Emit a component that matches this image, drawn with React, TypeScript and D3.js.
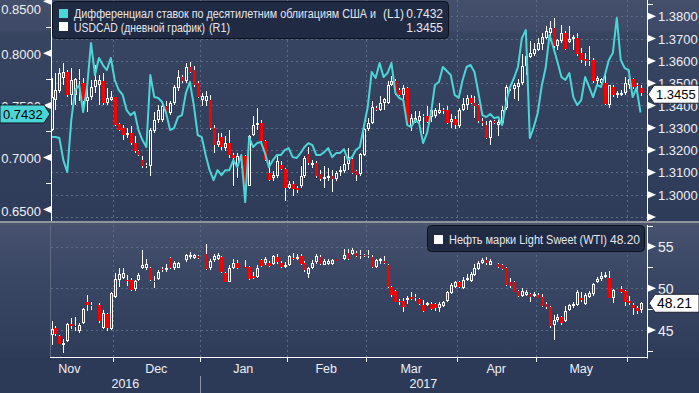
import React from "react";
import { scaleLinear, line } from "d3";

type OHLC = [number, number, number, number];

// one candle per weekday, first visible session 9 Nov 2016
const FIRST_DAY = new Date(2016, 10, 9);
const DAY_COUNT = 150;

// USDCAD daily [open, high, low, close]
const usdcad: OHLC[] = [
  [1.3291, 1.3522, 1.3284, 1.3440], [1.3425, 1.3545, 1.3381, 1.347], [1.3463, 1.3567, 1.3455, 1.3545],
  [1.3522, 1.359, 1.3493, 1.3552], [1.3552, 1.356, 1.344, 1.3448], [1.3448, 1.3567, 1.3403, 1.3515],
  [1.3448, 1.3522, 1.3403, 1.3518], [1.3508, 1.3563, 1.3418, 1.3515], [1.35, 1.3522, 1.3373, 1.3418],
  [1.3418, 1.3515, 1.3373, 1.344], [1.344, 1.3515, 1.3425, 1.3485], [1.3485, 1.3582, 1.3455, 1.3515],
  [1.3493, 1.3537, 1.3403, 1.3515], [1.3508, 1.3545, 1.3403, 1.341], [1.341, 1.3478, 1.3403, 1.3433],
  [1.3425, 1.3463, 1.3418, 1.344], [1.344, 1.344, 1.3306, 1.3313], [1.3318, 1.3321, 1.3284, 1.3291],
  [1.3298, 1.3313, 1.3246, 1.3269], [1.3269, 1.3298, 1.3254, 1.3276], [1.3276, 1.3306, 1.3224, 1.3231],
  [1.3231, 1.3261, 1.3187, 1.3194], [1.3194, 1.3201, 1.3172, 1.3179], [1.3154, 1.3172, 1.3119, 1.3127],
  [1.3127, 1.3142, 1.3119, 1.3134], [1.3127, 1.3298, 1.3082, 1.3291], [1.3284, 1.3373, 1.3276, 1.3336],
  [1.3336, 1.3403, 1.3321, 1.3381], [1.3336, 1.341, 1.3328, 1.3396], [1.3396, 1.3418, 1.3358, 1.3366],
  [1.3366, 1.3418, 1.3358, 1.3413], [1.341, 1.3493, 1.3403, 1.3485], [1.3478, 1.356, 1.3463, 1.353],
  [1.353, 1.3537, 1.35, 1.3508], [1.3508, 1.359, 1.35, 1.3572], [1.3572, 1.3597, 1.3545, 1.3552],
  [1.356, 1.3575, 1.3485, 1.3493], [1.35, 1.3508, 1.3433, 1.344], [1.3425, 1.3455, 1.3396, 1.3443],
  [1.3422, 1.3463, 1.3396, 1.3443], [1.3425, 1.3448, 1.3291, 1.3298], [1.3298, 1.3313, 1.3187, 1.3224],
  [1.3224, 1.3276, 1.3216, 1.3239], [1.3258, 1.3276, 1.3201, 1.3213], [1.3209, 1.3261, 1.3194, 1.3231],
  [1.3231, 1.3291, 1.3164, 1.3179], [1.3179, 1.3187, 1.3037, 1.3164], [1.3127, 1.3187, 1.3075, 1.3175],
  [1.3172, 1.3179, 1.3119, 1.3157], [1.3172, 1.3179, 1.3037, 1.3045], [1.3037, 1.3269, 1.3037, 1.3261],
  [1.3269, 1.3351, 1.3261, 1.3313], [1.3313, 1.3388, 1.3291, 1.3321], [1.3321, 1.3336, 1.3231, 1.3239],
  [1.3239, 1.3246, 1.3149, 1.3157], [1.3097, 1.3157, 1.306, 1.3067], [1.3075, 1.3105, 1.306, 1.309],
  [1.3082, 1.3179, 1.3075, 1.3149], [1.3134, 1.3149, 1.3112, 1.3115], [1.3115, 1.3119, 1.297, 1.303],
  [1.303, 1.306, 1.3025, 1.3049], [1.3049, 1.306, 1.2993, 1.3025], [1.303, 1.3037, 1.3007, 1.3019],
  [1.3037, 1.3127, 1.303, 1.3085], [1.3082, 1.3172, 1.3075, 1.3164], [1.3184, 1.3216, 1.3134, 1.3142],
  [1.3134, 1.3157, 1.3119, 1.3142], [1.3142, 1.3149, 1.3075, 1.3082], [1.3094, 1.3112, 1.306, 1.307],
  [1.307, 1.3127, 1.303, 1.3079], [1.3075, 1.3119, 1.306, 1.3082], [1.3082, 1.3112, 1.301, 1.307],
  [1.307, 1.3105, 1.306, 1.3097], [1.31, 1.3127, 1.3082, 1.3109], [1.3105, 1.3172, 1.3097, 1.3139],
  [1.3139, 1.3209, 1.3112, 1.3167], [1.3161, 1.3166, 1.3091, 1.3099], [1.3106, 1.3113, 1.3061, 1.3087],
  [1.3091, 1.3188, 1.3084, 1.3181], [1.3176, 1.33, 1.3173, 1.3293], [1.3293, 1.3345, 1.3285, 1.3322],
  [1.3322, 1.342, 1.3315, 1.3394], [1.339, 1.3397, 1.3375, 1.3379], [1.3382, 1.3442, 1.3375, 1.3412],
  [1.3412, 1.3434, 1.3382, 1.3427], [1.3409, 1.3509, 1.3405, 1.3494], [1.349, 1.3534, 1.3487, 1.3512],
  [1.3512, 1.3517, 1.3449, 1.3469], [1.3469, 1.3479, 1.3442, 1.3446], [1.3449, 1.349, 1.3427, 1.3479],
  [1.3479, 1.3484, 1.3315, 1.3322], [1.3308, 1.336, 1.3285, 1.3345], [1.333, 1.3375, 1.3322, 1.3345],
  [1.333, 1.3375, 1.3315, 1.3352], [1.3349, 1.336, 1.327, 1.3352], [1.3355, 1.3397, 1.3322, 1.3325],
  [1.3349, 1.3397, 1.3325, 1.3378], [1.3355, 1.339, 1.3345, 1.3382], [1.3367, 1.3412, 1.336, 1.3382],
  [1.3382, 1.339, 1.336, 1.3375], [1.3382, 1.3397, 1.3315, 1.3322], [1.3325, 1.336, 1.33, 1.334],
  [1.334, 1.3352, 1.3293, 1.3311], [1.3308, 1.339, 1.33, 1.3382], [1.3382, 1.3434, 1.3375, 1.3405],
  [1.34, 1.3449, 1.3382, 1.3434], [1.3434, 1.3449, 1.3405, 1.3412], [1.3412, 1.3442, 1.3345, 1.3397],
  [1.34, 1.3405, 1.3322, 1.333], [1.333, 1.3345, 1.3308, 1.332], [1.3311, 1.333, 1.3248, 1.3255],
  [1.3255, 1.3337, 1.3225, 1.333], [1.333, 1.3337, 1.3315, 1.3322], [1.3311, 1.3337, 1.3263, 1.3325],
  [1.3322, 1.3397, 1.3315, 1.3382], [1.339, 1.3494, 1.3382, 1.3484], [1.3484, 1.3494, 1.3464, 1.3472],
  [1.3472, 1.3502, 1.3427, 1.3494], [1.3484, 1.3517, 1.342, 1.3502], [1.3502, 1.3629, 1.3494, 1.3576],
  [1.3576, 1.3629, 1.3539, 1.3621], [1.3618, 1.3688, 1.3614, 1.3636], [1.3632, 1.3681, 1.3624, 1.3654],
  [1.3651, 1.3703, 1.3643, 1.3681], [1.3678, 1.3726, 1.3651, 1.3708], [1.3703, 1.3755, 1.3696, 1.3733],
  [1.3726, 1.3778, 1.3688, 1.3748], [1.3748, 1.3793, 1.3658, 1.3666], [1.3666, 1.3699, 1.3651, 1.3693],
  [1.3688, 1.3763, 1.3681, 1.3726], [1.3723, 1.3733, 1.3651, 1.3654], [1.3684, 1.3755, 1.3681, 1.3696],
  [1.3696, 1.3718, 1.3651, 1.3708], [1.3703, 1.3726, 1.3621, 1.3629], [1.3636, 1.3658, 1.3591, 1.3606],
  [1.3609, 1.3636, 1.3576, 1.3599], [1.3603, 1.3666, 1.3576, 1.3606], [1.3606, 1.3614, 1.3502, 1.3509],
  [1.3509, 1.3531, 1.3494, 1.3524], [1.3502, 1.3524, 1.3487, 1.3517], [1.3502, 1.3546, 1.34, 1.3405],
  [1.34, 1.3494, 1.339, 1.349], [1.3484, 1.349, 1.3439, 1.3445], [1.3445, 1.3464, 1.3434, 1.3454],
  [1.3449, 1.3469, 1.3442, 1.3457], [1.3454, 1.3529, 1.3449, 1.3502], [1.3494, 1.3554, 1.3472, 1.3517],
  [1.3517, 1.3524, 1.3475, 1.3484], [1.3494, 1.3502, 1.3464, 1.3487], [1.3479, 1.349, 1.3442, 1.3455],
];

// US-Canada 10y yield differential (L1)
const spread: number[] = [
  0.7196, 0.7196, 0.7186, 0.6974, 0.6859, 0.7359, 0.7648, 0.7696, 0.7436, 0.7677,
  0.81, 0.7792, 0.7955, 0.7888, 0.784, 0.7955, 0.7744, 0.7648, 0.76, 0.7455,
  0.7407, 0.7436, 0.7263, 0.7167, 0.71, 0.7792, 0.758, 0.7571, 0.7532, 0.7426,
  0.7263, 0.7282, 0.7388, 0.7407, 0.7619, 0.7725, 0.7503, 0.7215, 0.7196, 0.7023,
  0.6878, 0.6782, 0.6878, 0.683, 0.6878, 0.6878, 0.6974, 0.6907, 0.7023, 0.6571,
  0.7196, 0.71, 0.7138, 0.7148, 0.7042, 0.6907, 0.6974, 0.7023, 0.7023, 0.7071,
  0.709, 0.7003, 0.6994, 0.7042, 0.71, 0.7138, 0.7119, 0.7023, 0.7023, 0.7051,
  0.709, 0.7003, 0.7042, 0.7042, 0.708, 0.6974, 0.7003, 0.7071, 0.71, 0.7292,
  0.7484, 0.7821, 0.7763, 0.7907, 0.7773, 0.7811, 0.7907, 0.7619, 0.7571, 0.7551,
  0.7311, 0.7292, 0.7359, 0.733, 0.7138, 0.7234, 0.7426, 0.7696, 0.7725, 0.7869,
  0.783, 0.7792, 0.76, 0.7571, 0.7744, 0.7869, 0.7888, 0.7821, 0.7619, 0.7407,
  0.7388, 0.7417, 0.7378, 0.7388, 0.7311, 0.7523, 0.7677, 0.7763, 0.7869, 0.8148,
  0.8225, 0.7186, 0.7292, 0.7426, 0.7686, 0.7859, 0.8177, 0.8051, 0.7917, 0.7773,
  0.7744, 0.7811, 0.758, 0.7503, 0.7551, 0.7773, 0.7677, 0.758, 0.7696, 0.7677,
  0.7792, 0.7936, 0.8003, 0.834, 0.7936, 0.7859, 0.784, 0.758, 0.7667, 0.7432,
];

// WTI daily [open, high, low, close], null = US holiday
const wti: (OHLC | null)[] = [
  [44.47, 46.05, 43.21, 45.18], [45.26, 45.46, 44.27, 44.55], [44.35, 44.47, 43.29, 43.36],
  [43.21, 43.88, 42.3, 43.48], [43.68, 45.85, 43.6, 45.73], [45.73, 46.45, 45.18, 45.46],
  [45.34, 46.52, 44.94, 45.46], [44.86, 45.85, 44.67, 45.66], [45.85, 47.63, 45.73, 47.55],
  [48.34, 49.21, 47.31, 47.95], [47.87, 48.42, 47.43, 48.03], null,
  [48.03, 48.22, 45.85, 46.05], [45.26, 47.43, 45.18, 47.04], [46.92, 47.04, 44.86, 45.26],
  [45.18, 49.61, 45.06, 49.41], [49.01, 51.78, 48.89, 51.11], [50.99, 52.37, 50.2, 51.66],
  [51.26, 52.37, 51.11, 51.78], [50.99, 51.58, 50.32, 50.87], [50.99, 51.19, 49.72, 49.8],
  [49.88, 50.99, 49.72, 50.87], [50.99, 51.78, 50.87, 51.58], [52.45, 54.54, 52.29, 52.84],
  [52.45, 53.48, 52.17, 52.96], [52.45, 52.57, 50.87, 50.99], [50.71, 51.5, 50.0, 50.87],
  [51.11, 52.17, 50.99, 51.98], [52.25, 52.57, 51.9, 52.13], [52.17, 52.96, 51.98, 52.37],
  [53.63, 53.75, 52.29, 52.45], [52.37, 53.24, 52.17, 53.08], [52.45, 53.16, 52.37, 53.04],
  null, [53.36, 54.15, 53.16, 53.95], [53.75, 54.35, 53.56, 54.03],
  [53.63, 54.15, 53.48, 53.95], [53.83, 53.95, 53.56, 53.63], null,
  [54.15, 55.25, 52.17, 52.25], [52.37, 53.56, 52.17, 53.24], [53.36, 54.15, 53.16, 53.83],
  [53.56, 54.27, 53.36, 54.03], [53.75, 53.87, 51.78, 51.9], [51.78, 51.98, 50.71, 50.79],
  [50.79, 52.84, 50.71, 52.37], [52.37, 53.56, 52.29, 53.08], [53.08, 53.36, 52.29, 52.37],
  null, [52.57, 53.36, 52.37, 52.45], [52.57, 52.69, 50.99, 51.11],
  [51.5, 51.9, 51.11, 51.26], [51.38, 52.77, 51.26, 52.45], [53.36, 53.56, 52.57, 52.69],
  [53.08, 53.75, 52.77, 53.56], [53.08, 53.24, 52.57, 52.69], [52.96, 54.03, 52.77, 53.83],
  [53.75, 54.15, 52.96, 53.16], [53.08, 53.24, 52.45, 52.57], [52.57, 53.16, 52.37, 52.84],
  [52.77, 54.03, 52.65, 53.87], [53.63, 54.27, 53.36, 53.48], [53.56, 54.15, 53.36, 53.75],
  [53.83, 54.15, 52.84, 52.96], [53.08, 53.24, 51.98, 52.17], [51.66, 52.57, 51.26, 52.45],
  [52.45, 53.36, 52.29, 53.08], [53.16, 54.15, 52.96, 53.87], [53.75, 53.95, 52.84, 52.96],
  [52.84, 53.56, 52.77, 53.24], [52.96, 53.48, 52.84, 53.24], [52.96, 53.56, 52.77, 53.36],
  [53.48, 53.56, 53.24, 53.32], null, [53.48, 54.66, 53.36, 54.03],
  [54.27, 54.66, 53.4, 53.56], [54.15, 54.82, 53.95, 54.54], [54.27, 54.42, 53.75, 53.87],
  [53.87, 54.54, 53.56, 54.03], [54.03, 54.15, 53.75, 53.87], [53.87, 54.54, 53.63, 54.03],
  [53.75, 53.95, 52.45, 52.57], [52.57, 53.56, 52.45, 53.36], [53.24, 53.63, 52.96, 53.48],
  [53.32, 53.87, 52.96, 53.08], [52.84, 52.96, 50.08, 50.2], [50.2, 50.32, 49.01, 49.21],
  [49.68, 49.8, 48.34, 48.42], [48.5, 48.74, 48.03, 48.34], [48.5, 48.82, 47.16, 47.71],
  [48.62, 49.13, 48.1, 48.82], [49.01, 49.61, 48.62, 48.74], [48.82, 49.29, 48.5, 49.01],
  [48.74, 48.89, 48.03, 48.1], [47.95, 48.62, 47.16, 47.24], [47.95, 48.34, 47.83, 48.22],
  [48.1, 48.34, 47.43, 47.55], [48.1, 48.3, 47.31, 47.63], [47.63, 48.34, 47.16, 48.1],
  [47.83, 48.5, 47.71, 48.34], [48.5, 49.68, 48.34, 49.61], [49.41, 50.59, 49.29, 50.4],
  [50.2, 50.87, 50.08, 50.71], [50.71, 50.87, 50.0, 50.2], [50.08, 51.38, 49.92, 50.99],
  [50.99, 51.66, 50.87, 51.26], [50.87, 51.98, 50.79, 51.66], [51.58, 52.96, 51.5, 52.37],
  [52.29, 53.24, 52.17, 53.08], [53.08, 53.63, 52.96, 53.36], [53.36, 53.75, 52.84, 53.08],
  [52.84, 53.48, 52.77, 53.24], null, [52.96, 53.08, 52.45, 52.57],
  [52.77, 52.96, 52.17, 52.29], [52.37, 52.57, 50.32, 50.4], [50.79, 51.26, 50.08, 50.32],
  [50.71, 50.87, 49.53, 49.61], [49.68, 49.8, 49.01, 49.13], [49.13, 50.08, 49.01, 49.68],
  [49.21, 49.8, 49.13, 49.61], [49.29, 49.41, 48.42, 49.01], [49.13, 49.61, 49.01, 49.29],
  [49.21, 49.41, 48.82, 48.89], [49.01, 49.29, 47.71, 47.83], [48.1, 48.34, 47.55, 47.71],
  [47.71, 47.83, 45.26, 45.46], [45.58, 46.84, 43.76, 46.25], [46.25, 46.92, 45.97, 46.52],
  [46.52, 46.64, 45.66, 45.85], [46.13, 47.83, 45.97, 47.31], [47.43, 48.1, 47.24, 47.95],
  [47.83, 48.34, 47.63, 48.1], [47.95, 49.8, 47.83, 49.61], [48.89, 49.61, 48.42, 48.62],
  [48.1, 49.41, 48.03, 49.21], [49.01, 49.68, 48.89, 49.41], [49.29, 50.59, 49.13, 50.47],
  [50.71, 51.38, 50.59, 51.11], [51.11, 51.9, 50.87, 51.5], [51.38, 51.98, 51.19, 51.58],
  [51.19, 52.05, 48.82, 48.89], [48.82, 49.92, 48.22, 49.8], null,
  [49.92, 50.32, 49.41, 49.61], [49.68, 49.8, 47.83, 48.34], [48.5, 49.13, 47.95, 48.22],
  [48.03, 48.22, 46.76, 47.63], [47.63, 47.83, 46.92, 47.31], [47.43, 48.34, 47.04, 48.2],
];

const spreadTicks = [0.65, 0.7, 0.75, 0.8, 0.85];
const spreadMinor = [0.675, 0.725, 0.775, 0.825];
const usdTicks = [1.29, 1.3, 1.31, 1.32, 1.33, 1.34, 1.35, 1.36, 1.37, 1.38];
const oilTicks = [45, 50, 55];
const oilMinor = [42.5, 47.5, 52.5, 57.5];
const monthNames = ["Jan", "Feb", "Mar", "Apr", "May", "Jun", "Jul", "Aug", "Sep", "Oct", "Nov", "Dec"];

const spreadName = "Дифференциал ставок по десятилетним облигациям США и";
const usdName = "USDCAD (дневной график)";
const oilName = "Нефть марки Light Sweet (WTI)";
const usdLegendValue = "1.3455";
const oilLegendValue = "48.20";
const oilLastValue = 48.21;

const isWeekday = (d: Date) => d.getDay() !== 0 && d.getDay() !== 6;
const days: Date[] = [];
for (let d = new Date(FIRST_DAY); days.length < DAY_COUNT; d.setDate(d.getDate() + 1)) {
  if (isWeekday(d)) days.push(new Date(d));
}
// weekdays of the first month that fall before the first session
let leadDays = 0;
for (let d = new Date(FIRST_DAY.getFullYear(), FIRST_DAY.getMonth(), 1); d < FIRST_DAY; d.setDate(d.getDate() + 1)) {
  if (isWeekday(d)) leadDays++;
}

const FONT = "'Liberation Sans', Arial, sans-serif";
const TXT = "#eef0f6";
const LEFT = 51;
const RIGHT = 647;
const TOP_BOTTOM = 221;
const LOW_TOP = 225;
const LOW_BOTTOM = 357.5;

const x = scaleLinear().domain([0, DAY_COUNT - 1]).range([51.5, 640.5]);
const yLeft = scaleLinear().domain([0.65, 0.85]).range([209.5, 1.3]);
const yUsd = scaleLinear().domain([1.3, 1.38]).range([194.7, 16.3]);
const yOil = scaleLinear().domain([45, 55]).range([330.1, 246.5]);

const GRID = "#5b6b88";
const RED = "#f80000";

const Candles: React.FC<{ data: (OHLC | null)[]; y: (v: number) => number }> = ({ data, y }) => (
  <g>
    {data.map((d, i) => {
      if (!d) return null;
      const [o, h, l, c] = d;
      const px = Math.round(x(i));
      const top = Math.round(y(Math.max(o, c)));
      const bot = Math.max(Math.round(y(Math.min(o, c))), top + 1);
      const hi = Math.round(y(h));
      const lo = Math.round(y(l));
      if (c < o) {
        return (
          <g key={i}>
            <line x1={px + 0.5} x2={px + 0.5} y1={hi} y2={lo} stroke="#fff" />
            <rect x={px - 1} y={top} width={3} height={bot - top} fill={RED} />
          </g>
        );
      }
      return (
        <g key={i}>
          {hi < top && <line x1={px + 0.5} x2={px + 0.5} y1={hi} y2={top} stroke="#fff" />}
          {lo > bot && <line x1={px + 0.5} x2={px + 0.5} y1={bot} y2={lo} stroke="#fff" />}
          <rect x={px - 0.5} y={top + 0.5} width={2} height={Math.max(bot - top - 1, 0)} fill="none" stroke="#fff" />
        </g>
      );
    })}
  </g>
);

export default function App() {
  // month boundaries: first trading day of each month
  const bounds: number[] = [];
  for (let i = 1; i < days.length; i++) {
    if (days[i].getMonth() !== days[i - 1].getMonth()) bounds.push(i);
  }
  const boundX = bounds.map(i => x(i - 0.5));
  const starts = [-leadDays, ...bounds];
  const monthLabels = starts.map((s, k) => {
    const end = k + 1 < starts.length ? starts[k + 1] : null;
    const first = Math.max(s, 0);
    const visible = (end === null ? RIGHT : x(end - 0.5)) - Math.max(x(s - 0.5), LEFT);
    const cx = end === null ? 0 : (x(s - 0.5) + x(end - 0.5)) / 2;
    return { name: monthNames[days[first].getMonth()], cx: Math.max(cx, LEFT + 14), visible };
  }).filter(m => m.visible > 40);
  const yearBreak = bounds.find(i => days[i].getMonth() === 0)!;
  const yearX = x(yearBreak - 0.5);

  const spreadLine = line<number>().x((_, i) => x(i)).y(d => yLeft(d));
  const lastSpread = spread[spread.length - 1];
  const lastUsd = usdcad[usdcad.length - 1][3];

  const ls = yLeft(lastSpread) + 1.5;
  const ru = yUsd(lastUsd) + 1;
  const ro = yOil(oilLastValue);

  return (
    <svg width={699} height={393} style={{ position: "absolute", left: 0, top: 0, display: "block" }} fontFamily={FONT}>
      <defs>
        <linearGradient id="bgTop" x1="0" y1="0" x2="0" y2="1">
          <stop offset="0" stopColor="#444f6b" />
          <stop offset="0.135" stopColor="#3e4a67" />
          <stop offset="0.15" stopColor="#384561" />
          <stop offset="0.5" stopColor="#34415e" />
          <stop offset="1" stopColor="#2f3c59" />
        </linearGradient>
        <linearGradient id="bgLow" x1="0" y1="0" x2="0" y2="1">
          <stop offset="0" stopColor="#46526e" />
          <stop offset="0.35" stopColor="#3b4865" />
          <stop offset="1" stopColor="#2f3c59" />
        </linearGradient>
        <clipPath id="clipTop">
          <rect x={LEFT} y={0} width={RIGHT - LEFT} height={TOP_BOTTOM} />
        </clipPath>
        <clipPath id="clipLow">
          <rect x={LEFT} y={LOW_TOP} width={RIGHT - LEFT} height={LOW_BOTTOM - LOW_TOP} />
        </clipPath>
      </defs>

      <rect width={699} height={393} fill="#2c3a57" />
      <rect x={0} y={0} width={699} height={TOP_BOTTOM} fill="url(#bgTop)" />
      <rect x={0} y={LOW_TOP} width={699} height={LOW_BOTTOM - LOW_TOP} fill="url(#bgLow)" />
      <rect x={0} y={221} width={699} height={2} fill="#8e939c" />
      <rect x={0} y={223} width={699} height={2} fill="#4d556a" />

      {/* top panel grid */}
      <g stroke={GRID} strokeDasharray="2,3">
        {usdTicks.map(v => (
          <line key={v} x1={LEFT} x2={RIGHT} y1={Math.round(yUsd(v)) + 0.5} y2={Math.round(yUsd(v)) + 0.5} />
        ))}
        {boundX.map((bx, k) => (
          <line key={k} x1={Math.round(bx) + 0.5} x2={Math.round(bx) + 0.5} y1={0} y2={TOP_BOTTOM} />
        ))}
      </g>
      {/* lower panel grid */}
      <g stroke={GRID} strokeDasharray="2,3">
        {oilTicks.map(v => (
          <line key={v} x1={LEFT} x2={RIGHT} y1={Math.round(yOil(v)) + 0.5} y2={Math.round(yOil(v)) + 0.5} />
        ))}
        {boundX.map((bx, k) => (
          <line key={k} x1={Math.round(bx) + 0.5} x2={Math.round(bx) + 0.5} y1={LOW_TOP} y2={LOW_BOTTOM} />
        ))}
      </g>

      <g clipPath="url(#clipTop)">
        <Candles data={usdcad} y={yUsd} />
        <path d={spreadLine(spread)!} fill="none" stroke="#4cd5d6" strokeWidth={2} strokeLinejoin="round" />
      </g>
      <g clipPath="url(#clipLow)">
        <Candles data={wti} y={yOil} />
      </g>

      {/* left axis (spread) */}
      <line x1={LEFT + 0.5} x2={LEFT + 0.5} y1={0} y2={TOP_BOTTOM} stroke="#fff" />
      {spreadMinor.map(v => (
        <line key={v} x1={46} x2={LEFT} y1={Math.round(yLeft(v)) + 0.5} y2={Math.round(yLeft(v)) + 0.5} stroke="#fff" />
      ))}
      {spreadTicks.map(v => (
        <g key={v}>
          <path d={`M43,${yLeft(v)} L51,${yLeft(v) - 3.5} L51,${yLeft(v) + 3.5} Z`} fill="#fff" />
          <text x={41} y={Math.max(yLeft(v) + 1.5, 9) + 4.5} textAnchor="end" fontSize={13} fill={TXT}>
            {v.toFixed(4)}
          </text>
        </g>
      ))}

      {/* right axis (USDCAD) */}
      <line x1={RIGHT + 0.5} x2={RIGHT + 0.5} y1={0} y2={TOP_BOTTOM} stroke="#fff" />
      {usdTicks.map(v => (
        <g key={v} transform={`translate(0,${yUsd(v)})`}>
          <path d="M648,-3.5 L656,0 L648,3.5 Z" fill="#fff" />
          {v >= 1.3 && (
            <text x={658} y={5} fontSize={13} fill={TXT}>{v.toFixed(4)}</text>
          )}
        </g>
      ))}
      <line x1={RIGHT} x2={653} y1={4.5} y2={4.5} stroke="#fff" />

      {/* right axis (WTI) */}
      <line x1={50.5} x2={50.5} y1={LOW_TOP} y2={LOW_BOTTOM} stroke="#5e6880" />
      <line x1={RIGHT + 0.5} x2={RIGHT + 0.5} y1={LOW_TOP} y2={LOW_BOTTOM + 1} stroke="#fff" />
      {oilMinor.map(v => (
        <line key={v} x1={RIGHT} x2={653} y1={Math.round(yOil(v)) + 0.5} y2={Math.round(yOil(v)) + 0.5} stroke="#fff" />
      ))}
      {oilTicks.map(v => (
        <g key={v} transform={`translate(0,${yOil(v)})`}>
          <path d="M648,-3.5 L656,0 L648,3.5 Z" fill="#fff" />
          <text x={658} y={5.5} fontSize={14} fill={TXT}>{v}</text>
        </g>
      ))}

      {/* time axis */}
      <line x1={50} x2={RIGHT + 1} y1={LOW_BOTTOM} y2={LOW_BOTTOM} stroke="#fff" />
      {boundX.map((bx, k) => (
        <line key={k} x1={Math.round(bx) + 0.5} x2={Math.round(bx) + 0.5} y1={LOW_BOTTOM} y2={362} stroke="#fff" />
      ))}
      {monthLabels.map(m => (
        <text key={m.name} x={m.cx} y={373} textAnchor="middle" fontSize={12.5} fill={TXT}>{m.name}</text>
      ))}
      <line x1={Math.round(yearX) + 0.5} x2={Math.round(yearX) + 0.5} y1={376} y2={393} stroke="#8d94a6" />
      <text x={(LEFT + yearX) / 2} y={388} textAnchor="middle" fontSize={12.5} fill={TXT}>
        {days[0].getFullYear()}
      </text>
      <text x={(yearX + RIGHT) / 2} y={388} textAnchor="middle" fontSize={12.5} fill={TXT}>
        {days[yearBreak].getFullYear()}
      </text>

      {/* top legend */}
      <rect x={52.5} y={1.5} width={396} height={37} rx={4} fill="#1e2840" fillOpacity={0.93} stroke="#0c111b" />
      <rect x={59} y={9} width={9} height={9} fill="#4cd5d6" />
      <rect x={59} y={22} width={9} height={9} fill="#fff" />
      <text x={74} y={18} fontSize={12} fill="#e4e7ee" textLength={302} lengthAdjust="spacingAndGlyphs">{spreadName}</text>
      <text x={383} y={18} fontSize={12} fill="#e4e7ee" textLength={21} lengthAdjust="spacingAndGlyphs">(L1)</text>
      <text x={443} y={18} textAnchor="end" fontSize={12} fill="#e4e7ee">{lastSpread.toFixed(4)}</text>
      <text x={74} y={31.5} fontSize={12} fill="#e4e7ee" textLength={131} lengthAdjust="spacingAndGlyphs">{usdName}</text>
      <text x={209} y={31.5} fontSize={12} fill="#e4e7ee" textLength={21} lengthAdjust="spacingAndGlyphs">(R1)</text>
      <text x={443} y={31.5} textAnchor="end" fontSize={12} fill="#e4e7ee">{usdLegendValue}</text>

      {/* lower legend */}
      <rect x={427.5} y={225.5} width={217} height={26} rx={4} fill="#1e2840" fillOpacity={0.93} stroke="#0c111b" />
      <rect x={434} y={235} width={9} height={9} fill="#fff" />
      <text x={449} y={243.5} fontSize={12} fill="#e4e7ee" textLength={158} lengthAdjust="spacingAndGlyphs">{oilName}</text>
      <text x={640} y={243.5} textAnchor="end" fontSize={12} fill="#e4e7ee">{oilLegendValue}</text>

      {/* last value tags */}
      <path d={`M0,${ls - 9} L44,${ls - 9} L50,${ls} L44,${ls + 9} L0,${ls + 9} Z`} fill="#4cd5d6" stroke="#0d1a24" />
      <text x={3} y={ls + 5} fontSize={13} fill="#000">{lastSpread.toFixed(4)}</text>
      <path d={`M699,${ru - 9} L654,${ru - 9} L648,${ru} L654,${ru + 9} L699,${ru + 9} Z`} fill="#fff" stroke="#1a1f2a" />
      <text x={656} y={ru + 5} fontSize={13} fill="#000">{lastUsd.toFixed(4)}</text>
      <path d={`M699,${ro - 9} L655,${ro - 9} L649,${ro} L655,${ro + 9} L699,${ro + 9} Z`} fill="#fff" stroke="#1a1f2a" />
      <text x={657} y={ro + 5} fontSize={14} fill="#000">{oilLastValue.toFixed(2)}</text>
    </svg>
  );
}
